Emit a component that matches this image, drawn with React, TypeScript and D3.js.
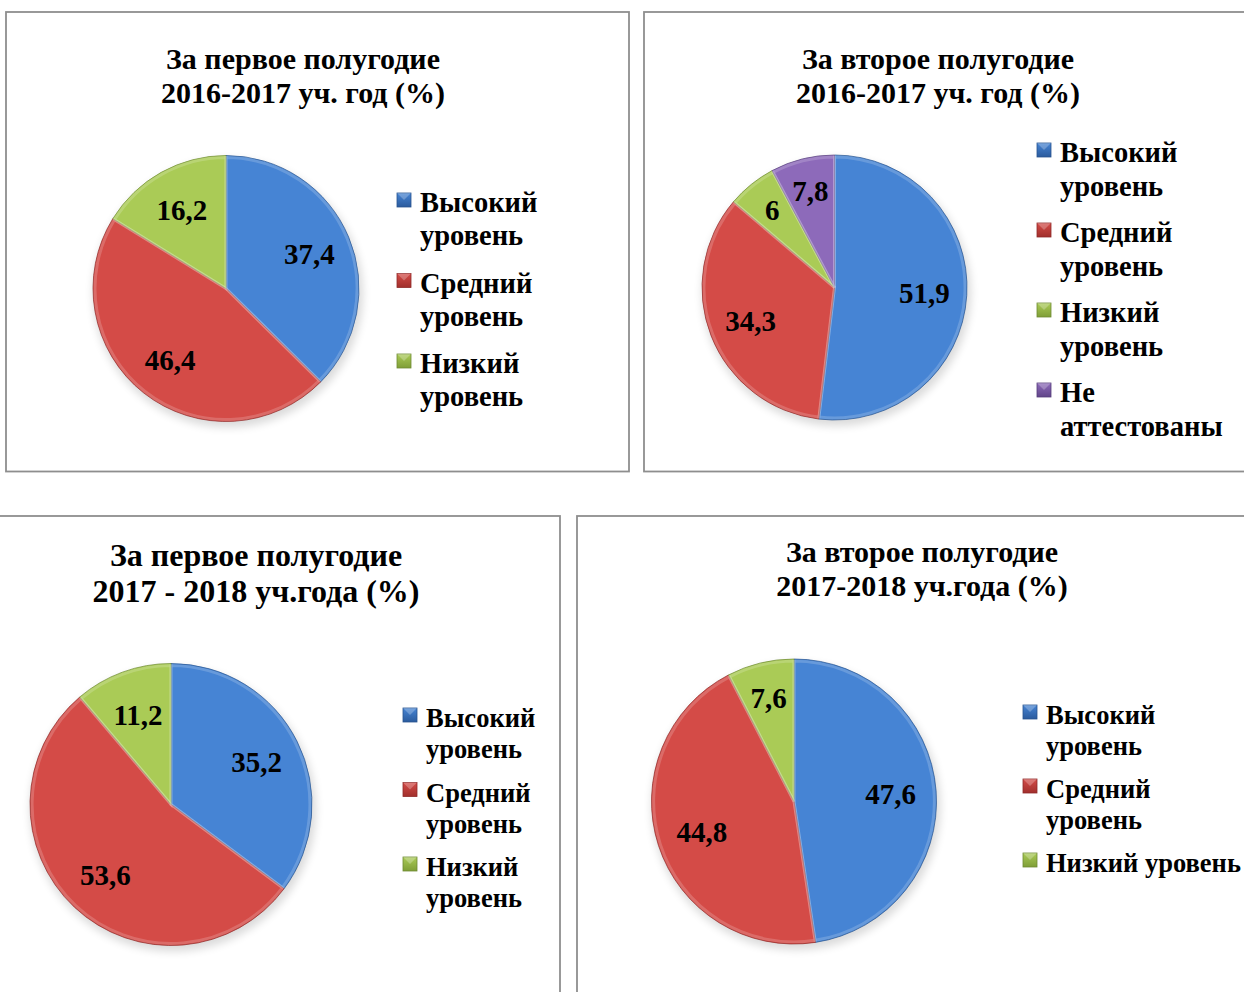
import React from 'react';
import * as d3 from 'd3';

// chart data
const levels3 = ['Высокий уровень', 'Средний уровень', 'Низкий уровень'];
const levels4 = ['Высокий уровень', 'Средний уровень', 'Низкий уровень', 'Не аттестованы'];

const values1 = [37.4, 46.4, 16.2];
const values2 = [51.9, 34.3, 6, 7.8];
const values3 = [35.2, 53.6, 11.2];
const values4 = [47.6, 44.8, 7.6];

const titles1 = ['За первое полугодие', '2016-2017 уч. год (%)'];
const titles2 = ['За второе полугодие', '2016-2017 уч. год (%)'];
const titles3 = ['За первое полугодие', '2017 - 2018 уч.года (%)'];
const titles4 = ['За второе полугодие', '2017-2018 уч.года (%)'];

// how legend entries wrap
const legendLines1 = [['Высокий', 'уровень'], ['Средний', 'уровень'], ['Низкий', 'уровень']];
const legendLines2 = [['Высокий', 'уровень'], ['Средний', 'уровень'], ['Низкий', 'уровень'], ['Не', 'аттестованы']];
const legendLines4 = [['Высокий', 'уровень'], ['Средний', 'уровень'], ['Низкий уровень']];

const palette = [
  { id: 'blue', light: '#4684d4', dark: '#2b5b9d', edge: '#28548f' },
  { id: 'red', light: '#d44b47', dark: '#a12f2c', edge: '#8f2a28' },
  { id: 'green', light: '#aacb56', dark: '#7f9e37', edge: '#6e8a32' },
  { id: 'purple', light: '#8d6aba', dark: '#614589', edge: '#563d7a' },
];

const FONT = '"Liberation Serif", "Times New Roman", serif';

type Layout = {
  box: [number, number, number, number];
  titleX: number; titleY: number; titleGap: number; titleSize: number;
  cx: number; cy: number; r: number;
  legX: number; legY: number; legGap: number; lineGap: number; legSize: number;
  labelSize: number;
};

const PieChart = ({ values, categories, titles, legendLines, layout, idx }: {
  values: number[]; categories: string[]; titles: string[]; legendLines: string[][]; layout: Layout; idx: number;
}) => {
  const { box, cx, cy, r } = layout;
  const arcs = d3.pie<number>().sort(null).value(d => d)(values);
  const arc = d3.arc<d3.PieArcDatum<number>>().innerRadius(0).outerRadius(r);

  return (
    <g>
      <rect x={box[0]} y={box[1]} width={box[2]} height={box[3]} fill="#fff" stroke="#8e8e8e" strokeWidth={1.8} />
      <defs>
        {palette.map(p => (
          <linearGradient key={p.id} id={`g${idx}-${p.id}`} gradientUnits="userSpaceOnUse"
            x1={cx - r * 0.3} y1={cy - r} x2={cx + r * 0.3} y2={cy + r}>
            <stop offset="0" stopColor={p.light} />
            <stop offset="1" stopColor={p.dark} />
          </linearGradient>
        ))}
      </defs>
      {titles.map((t, i) => (
        <text key={i} x={layout.titleX} y={layout.titleY + i * layout.titleGap} textAnchor="middle"
          fontFamily={FONT} fontWeight="bold" fontSize={layout.titleSize}>{t}</text>
      ))}
      <ellipse cx={cx + 2} cy={cy + 5} rx={r + 2} ry={r + 1} fill="#000" opacity={0.14} filter="url(#blur)" />
      <g transform={`translate(${cx},${cy})`}>
        {arcs.map((a, i) => (
          <path key={i} d={arc(a) ?? ''} fill={`url(#g${idx}-${palette[i].id})`}
            stroke={palette[i].edge} strokeWidth={1} strokeOpacity={0.7} />
        ))}
        {arcs.map((a, i) => (
          <path key={'h' + i} d={arc(a) ?? ''} fill="none" stroke="#fff" strokeOpacity={0.18} strokeWidth={3}
            transform="scale(0.985)" />
        ))}
        {arcs.map((a, i) => {
          const k = a.data < 10 ? 0.75 : 0.68;
          const [lx, ly] = d3.arc<d3.PieArcDatum<number>>().innerRadius(r * k).outerRadius(r * k).centroid(a);
          return (
            <text key={'l' + i} x={lx} y={ly} dy="0.35em" textAnchor="middle" fontFamily={FONT}
              fontWeight="bold" fontSize={layout.labelSize}>{String(a.data).replace('.', ',')}</text>
          );
        })}
      </g>
      {categories.map((c, i) => {
        const y0 = layout.legY + i * layout.legGap;
        const p = palette[i];
        const m = 14;
        return (
          <g key={c}>
            <rect x={layout.legX} y={y0 - 19} width={m} height={m} fill={`url(#mk-${p.id})`} stroke={p.edge} strokeWidth={0.8} />
            <path d={`M${layout.legX},${y0 - 19} L${layout.legX + m / 2},${y0 - 19 + m / 2} L${layout.legX + m},${y0 - 19}`}
              fill="#fff" fillOpacity={0.25} />
            {legendLines[i].map((t, j) => (
              <text key={j} x={layout.legX + 23} y={y0 + j * layout.lineGap} fontFamily={FONT} fontWeight="bold"
                fontSize={layout.legSize}>{t}</text>
            ))}
          </g>
        );
      })}
    </g>
  );
};

const layouts: Layout[] = [
  { box: [6, 12, 623, 459.5], titleX: 303, titleY: 69, titleGap: 34, titleSize: 30,
    cx: 226, cy: 288.5, r: 133, legX: 397, legY: 212, legGap: 80.5, lineGap: 33, legSize: 28.5, labelSize: 29 },
  { box: [644, 12, 640, 459.5], titleX: 938, titleY: 69, titleGap: 34, titleSize: 30,
    cx: 834.5, cy: 287.5, r: 132.5, legX: 1037, legY: 162, legGap: 80, lineGap: 34, legSize: 28.5, labelSize: 29 },
  { box: [-10, 516, 570, 520], titleX: 256, titleY: 566, titleGap: 36, titleSize: 32,
    cx: 171, cy: 804.5, r: 141, legX: 403, legY: 727, legGap: 74.5, lineGap: 31, legSize: 26.5, labelSize: 29 },
  { box: [577, 516, 700, 520], titleX: 922, titleY: 562, titleGap: 34, titleSize: 30,
    cx: 794, cy: 801.5, r: 142.5, legX: 1023, legY: 724, legGap: 74, lineGap: 31, legSize: 26.5, labelSize: 29 },
];

export default function App() {
  return (
    <svg width={1244} height={992} style={{ position: 'absolute', left: 0, top: 0, background: '#fff' }}>
      <defs>
        <filter id="blur" x="-20%" y="-20%" width="140%" height="140%">
          <feGaussianBlur stdDeviation="4" />
        </filter>
        {palette.map(p => (
          <linearGradient key={p.id} id={`mk-${p.id}`} x1="0" y1="0" x2="0" y2="1">
            <stop offset="0" stopColor={p.light} />
            <stop offset="1" stopColor={p.dark} />
          </linearGradient>
        ))}
      </defs>
      <PieChart idx={0} values={values1} categories={levels3} titles={titles1} legendLines={legendLines1} layout={layouts[0]} />
      <PieChart idx={1} values={values2} categories={levels4} titles={titles2} legendLines={legendLines2} layout={layouts[1]} />
      <PieChart idx={2} values={values3} categories={levels3} titles={titles3} legendLines={legendLines1} layout={layouts[2]} />
      <PieChart idx={3} values={values4} categories={levels3} titles={titles4} legendLines={legendLines4} layout={layouts[3]} />
    </svg>
  );
}
